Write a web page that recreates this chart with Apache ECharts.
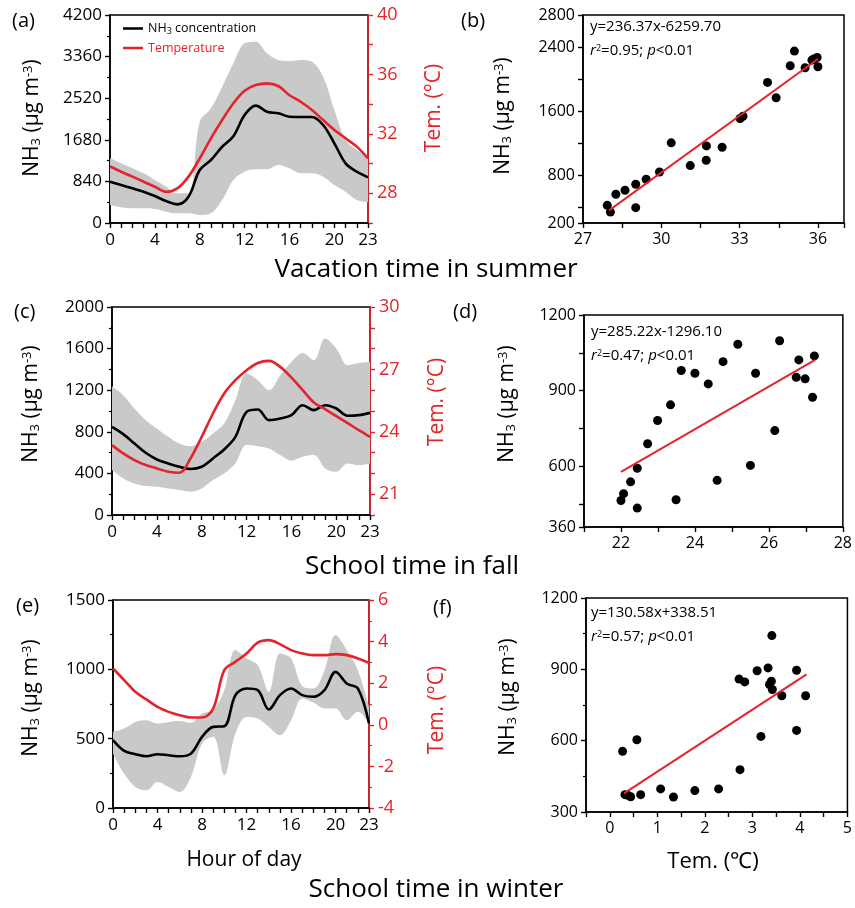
<!DOCTYPE html>
<html><head><meta charset="utf-8">
<script src="https://cdn.jsdelivr.net/npm/echarts@6/dist/echarts.min.js"></script>
<style>html,body{margin:0;padding:0;background:#fff}#c{width:855px;height:908px}</style>
</head><body><div id="c"></div>
<script>
// ---------- data ----------
const hours = ['0','1','2','3','4','5','6','7','8','9','10','11','12','13','14','15','16','17','18','19','20','21','22','23'];

// (a) vacation time in summer
const summerNH3  = [834,767,700,632,545,444,377,531,1070,1272,1540,1750,2180,2370,2247,2214,2147,2140,2140,1979,1609,1205,1036,922];
const summerTemp = [29.8,29.45,29.12,28.78,28.44,28.1,28.33,29.12,30.35,31.7,32.93,34.06,34.9,35.29,35.4,35.22,34.6,34.16,33.6,32.93,32.26,31.7,31.14,30.35];
const summerLow  = [363,316,296,296,283,229,195,195,161,195,464,868,1036,1084,1084,1171,1104,1003,1003,935,767,632,464,418];
const summerUp   = [1306,1205,1104,1003,868,733,599,599,2046,2315,2752,3224,3628,3661,3426,3291,3271,3291,3258,2954,2281,1676,1474,1339];

// (c) school time in fall
const fallNH3  = [848,778,688,598,534,496,464,442,464,544,630,752,992,1014,912,928,960,1056,1008,1056,1024,954,960,982];
const fallTemp = [23.36,22.96,22.64,22.4,22.24,22.08,22.03,22.72,23.76,24.88,25.84,26.48,26.96,27.31,27.41,27.12,26.6,26.0,25.41,25.09,24.75,24.42,24.08,23.76];
const fallLow  = [432,352,304,278,272,256,240,224,256,336,400,496,672,662,640,576,522,560,576,448,416,496,480,496];
const fallUp   = [1238,1152,1024,912,832,752,688,662,704,784,880,1104,1360,1296,1200,1344,1472,1558,1488,1696,1600,1440,1462,1472];

// (e) school time in winter
const winterNH3  = [489,412,388,373,388,380,373,392,513,585,590,814,862,850,710,814,862,814,802,850,982,898,862,609];
const winterTemp = [2.71,2.15,1.59,1.22,0.86,0.62,0.46,0.35,0.35,0.78,2.63,3.03,3.43,3.95,4.07,3.88,3.59,3.43,3.35,3.35,3.40,3.35,3.19,2.98];
const winterLow  = [392,248,152,128,188,152,116,224,465,513,236,537,657,645,585,525,633,790,760,718,718,633,694,609];
const winterUp   = [549,573,621,633,609,621,628,614,681,706,850,1139,1079,1031,838,1115,1079,880,862,994,1247,1139,994,730];

// (b) (d) (f) scatter: [temperature, NH3]
const summerScatter = [[27.93,421],[28.05,338],[28.26,559],[28.61,609],[29.02,684],[29.02,392],[29.42,747],[29.93,838],[30.38,1202],[31.11,918],[31.72,985],[31.73,1164],[32.33,1147],[33.02,1506],[33.13,1535],[34.07,1957],[34.4,1765],[34.94,2166],[35.1,2349],[35.51,2140],[35.77,2236],[35.85,2250],[35.97,2270],[36.0,2153]];
const fallScatter = [[22.0,465],[22.07,492],[22.44,435],[22.44,593],[22.26,539],[22.72,690],[22.99,782],[23.34,844],[23.49,468],[23.63,980],[24.0,969],[24.36,927],[24.6,545],[24.76,1015],[25.16,1084],[25.5,604],[25.64,969],[26.29,1098],[26.16,742],[26.74,953],[26.81,1022],[26.98,947],[27.18,874],[27.23,1038]];
const winterScatter = [[0.27,555],[0.32,373],[0.38,370],[0.44,364],[0.57,604],[0.65,373],[1.07,397],[1.34,363],[1.79,390],[2.29,397],[2.72,859],[2.84,847],[2.74,478],[3.10,894],[3.18,618],[3.33,906],[3.36,836],[3.40,850],[3.41,1042],[3.42,815],[3.62,789],[3.93,896],[3.93,643],[4.12,789]];
const summerFit = [[28,358],[36,2250]];
const fallFit   = [[22,578],[27.25,1022]];
const winterFit = [[0.3,378],[4.14,879]];

// tick labels
const hourLabelIdx = [0,4,8,12,16,20,23];
const aLeftInterval = 840, aRightLabels = [28,32,36,40];
const bXLabels = [27,30,33,36], bXTicks = [27,28.5,30,31.5,33,34.5,36,37];
const bYLabels = [200,800,1600,2400,2800], bYTicks = [200,400,800,1200,1600,2000,2400,2800];
const cRightLabels = [21,24,27,30];
const dXLabels = [22,24,26,28], dXTicks = [21,22,23,24,25,26,27,28];
const dYLabels = [360,600,900,1200], dYTicks = [360,450,600,750,900,1050,1200];
const fXLabels = [0,1,2,3,4,5];

// ---------- styles ----------
const RED = '#e3242b';
const FONT = 'Open Sans';
const grids = [
  {left:110, top:15, width:258, height:208},
  {left:583, top:15, width:261, height:208},
  {left:112, top:307, width:258, height:208},
  {left:584, top:315, width:262, height:212},
  {left:113, top:600, width:256, height:208},
  {left:586, top:598, width:264, height:214}
].map(g => Object.assign({show:true, borderColor:'#000', borderWidth:1.5, backgroundColor:'transparent'}, g));

function axisBase(color, fs){
  return {
    axisLine:{show:true, onZero:false, lineStyle:{color:color, width:1.6}},
    axisTick:{show:true, length:5, lineStyle:{color:color, width:1.4}},
    axisLabel:{color:color, fontSize:fs||17, fontFamily:FONT, margin:8, formatter:(v)=>String(v)},
    splitLine:{show:false}
  };
}
function hourAxis(gi){
  const a = axisBase('#000');
  return Object.assign(a, {
    type:'category', gridIndex:gi, data:hours, boundaryGap:false,
    axisTick:Object.assign(a.axisTick, {interval:0, length:5}),
    axisLabel:Object.assign(a.axisLabel, {interval:(i)=>hourLabelIdx.indexOf(i)>=0, margin:9})
  });
}
function valAxis(gi, o, color, fs){
  const a = axisBase(color||'#000', fs);
  const r = Object.assign(a, {type:'value', gridIndex:gi}, o.base||{});
  if (o.labels) r.axisLabel.customValues = o.labels;
  if (o.ticks) r.axisTick.customValues = o.ticks;
  if (o.minor) r.minorTick = {show:true, splitNumber:o.minor, length:3, lineStyle:{color:color||'#000', width:1.2}};
  if (o.margin) r.axisLabel.margin = o.margin;
  return r;
}

const xAxis = [
  hourAxis(0),
  valAxis(1, {base:{min:27, max:37}, labels:bXLabels, ticks:bXTicks}, '#000', 16),
  hourAxis(2),
  valAxis(3, {base:{min:21, max:28}, labels:dXLabels, ticks:dXTicks}, '#000', 16),
  hourAxis(4),
  valAxis(5, {base:{min:-0.5, max:5, interval:0.5}, labels:fXLabels}, '#000', 16)
];
const yAxis = [
  valAxis(0, {base:{min:0, max:4200, interval:aLeftInterval}, minor:2}),
  valAxis(0, {base:{min:26, max:40, interval:2, position:'right'}, labels:aRightLabels, margin:9}, RED, 18),
  valAxis(1, {base:{min:200, max:2800}, labels:bYLabels, ticks:bYTicks}, '#000', 16),
  valAxis(2, {base:{min:0, max:2000, interval:400}, minor:2}),
  valAxis(2, {base:{min:20, max:30, interval:1, position:'right'}, labels:cRightLabels, margin:9}, RED, 18),
  valAxis(3, {base:{min:360, max:1200}, labels:dYLabels, ticks:dYTicks}, '#000', 16),
  valAxis(4, {base:{min:0, max:1500, interval:500}, minor:2}),
  valAxis(4, {base:{min:-4, max:6, interval:2, position:'right'}, minor:2, margin:9}, RED, 18),
  valAxis(5, {base:{min:300, max:1200, interval:300}, minor:2}, '#000', 16)
];

function lineSet(xi, yl, yr, low, up, nh3, temp, key){
  const sm = 0.35;
  return [
    {type:'line', xAxisIndex:xi, yAxisIndex:yl, data:low, stack:key, smooth:sm, symbol:'none', silent:true, lineStyle:{opacity:0}, z:1},
    {type:'line', xAxisIndex:xi, yAxisIndex:yl, data:up.map((v,i)=>v-low[i]), stack:key, smooth:sm, symbol:'none', silent:true, lineStyle:{opacity:0}, areaStyle:{color:'#c9c9c9', opacity:1}, z:1},
    {name:'NH3 concentration', type:'line', xAxisIndex:xi, yAxisIndex:yl, data:nh3, smooth:sm, symbol:'none', lineStyle:{color:'#000', width:2.6}, itemStyle:{color:'#000'}, z:3},
    {name:'Temperature', type:'line', xAxisIndex:xi, yAxisIndex:yr, data:temp, smooth:sm, symbol:'none', lineStyle:{color:RED, width:2.6}, itemStyle:{color:RED}, z:4}
  ];
}
function scatterSet(xi, yi, pts, fit){
  return [
    {type:'scatter', xAxisIndex:xi, yAxisIndex:yi, data:pts, symbolSize:9, itemStyle:{color:'#000', opacity:1}, z:3},
    {type:'line', xAxisIndex:xi, yAxisIndex:yi, data:fit, symbol:'none', lineStyle:{color:RED, width:2}, z:4}
  ];
}
const series = [].concat(
  lineSet(0, 0, 1, summerLow, summerUp, summerNH3, summerTemp, 'bandA'),
  scatterSet(1, 2, summerScatter, summerFit),
  lineSet(2, 3, 4, fallLow, fallUp, fallNH3, fallTemp, 'bandC'),
  scatterSet(3, 5, fallScatter, fallFit),
  lineSet(4, 6, 7, winterLow, winterUp, winterNH3, winterTemp, 'bandE'),
  scatterSet(5, 8, winterScatter, winterFit)
);

// ---------- text graphics ----------
const richNH3 = {
  b:{fontSize:21, fontFamily:FONT, color:'#000'},
  sub:{fontSize:13, fontFamily:FONT, color:'#000', verticalAlign:'bottom', lineHeight:18},
  sup:{fontSize:13, fontFamily:FONT, color:'#000', verticalAlign:'top', lineHeight:18}
};
function t(x, y, text, o){
  o = o || {};
  return {type:'text', x:x, y:y, rotation:o.rot||0, silent:true, z:10,
    style:Object.assign({text:text, fill:o.color||'#000', font:(o.italic?'italic ':'')+(o.size||20)+'px "'+FONT+'"',
      align:o.align||'center', verticalAlign:o.va||'middle'}, o.rich?{rich:o.rich}:{})};
}
function nh3Title(x, y){
  return {type:'text', x:x, y:y, rotation:Math.PI/2, silent:true, z:10,
    style:{text:'{b|NH}{sub|3}{b| (μg m}{sup|-3}{b|)}', rich:richNH3, align:'center', verticalAlign:'middle', font:'21px "'+FONT+'"'}};
}
const eqRich = {
  n:{fontSize:15, fontFamily:FONT, color:'#000'},
  i:{fontSize:15, fontFamily:FONT, fontStyle:'italic', color:'#000'},
  sup:{fontSize:9, fontFamily:FONT, color:'#000', verticalAlign:'top', lineHeight:14}
};
function eq(x, y, l1, l2){
  return [
    {type:'text', x:x, y:y, silent:true, z:10, style:{text:'{n|'+l1+'}', rich:eqRich, align:'left', verticalAlign:'middle'}},
    {type:'text', x:x, y:y+24, silent:true, z:10, style:{text:'{i|r}{sup|2}{n|'+l2+'; }{i|p}{n|<0.01}', rich:eqRich, align:'left', verticalAlign:'middle'}}
  ];
}
const graphic = [
  t(12, 11, '(a)', {align:'left', va:'top', size:20}),
  t(461, 11, '(b)', {align:'left', va:'top', size:20}),
  t(14, 302, '(c)', {align:'left', va:'top', size:20}),
  t(453, 302, '(d)', {align:'left', va:'top', size:20}),
  t(16, 596, '(e)', {align:'left', va:'top', size:20}),
  t(433, 598, '(f)', {align:'left', va:'top', size:20}),
  nh3Title(32, 118), nh3Title(503, 116),
  nh3Title(31, 404), nh3Title(507, 404),
  nh3Title(31, 698), nh3Title(508, 697),
  t(434, 108, 'Tem. (°C)', {rot:Math.PI/2, color:RED, size:21}),
  t(437, 402, 'Tem. (°C)', {rot:Math.PI/2, color:RED, size:21}),
  t(437, 710, 'Tem. (°C)', {rot:Math.PI/2, color:RED, size:21}),
  t(426, 270, 'Vacation time in summer', {size:26}),
  t(412, 567, 'School time in fall', {size:26}),
  t(436, 890, 'School time in winter', {size:26}),
  t(244, 860, 'Hour of day', {size:21}),
  t(713, 862, 'Tem. (℃)', {size:22})
].concat(
  eq(590, 27, 'y=236.37x-6259.70', '=0.95'),
  eq(591, 332, 'y=285.22x-1296.10', '=0.47'),
  eq(591, 613, 'y=130.58x+338.51', '=0.57')
);

const chart = echarts.init(document.getElementById('c'), null, {renderer:'canvas'});
chart.setOption({
  backgroundColor:'#fff',
  animation:false,
  textStyle:{fontFamily:FONT},
  grid:grids,
  xAxis:xAxis,
  yAxis:yAxis,
  legend:{
    left:118, top:17, orient:'vertical', itemGap:6, itemWidth:20, itemHeight:2.5, icon:'rect', selectedMode:false,
    data:[{name:'NH3 concentration', textStyle:{color:'#000'}}, {name:'Temperature', textStyle:{color:RED}}],
    formatter:(n)=> n==='NH3 concentration' ? 'NH{s|3} concentration' : n,
    textStyle:{fontSize:12.5, fontFamily:FONT, rich:{s:{fontSize:9, color:'#000', fontFamily:FONT, verticalAlign:'bottom', lineHeight:14}}}
  },
  graphic:graphic,
  series:series
});
</script></body></html>
